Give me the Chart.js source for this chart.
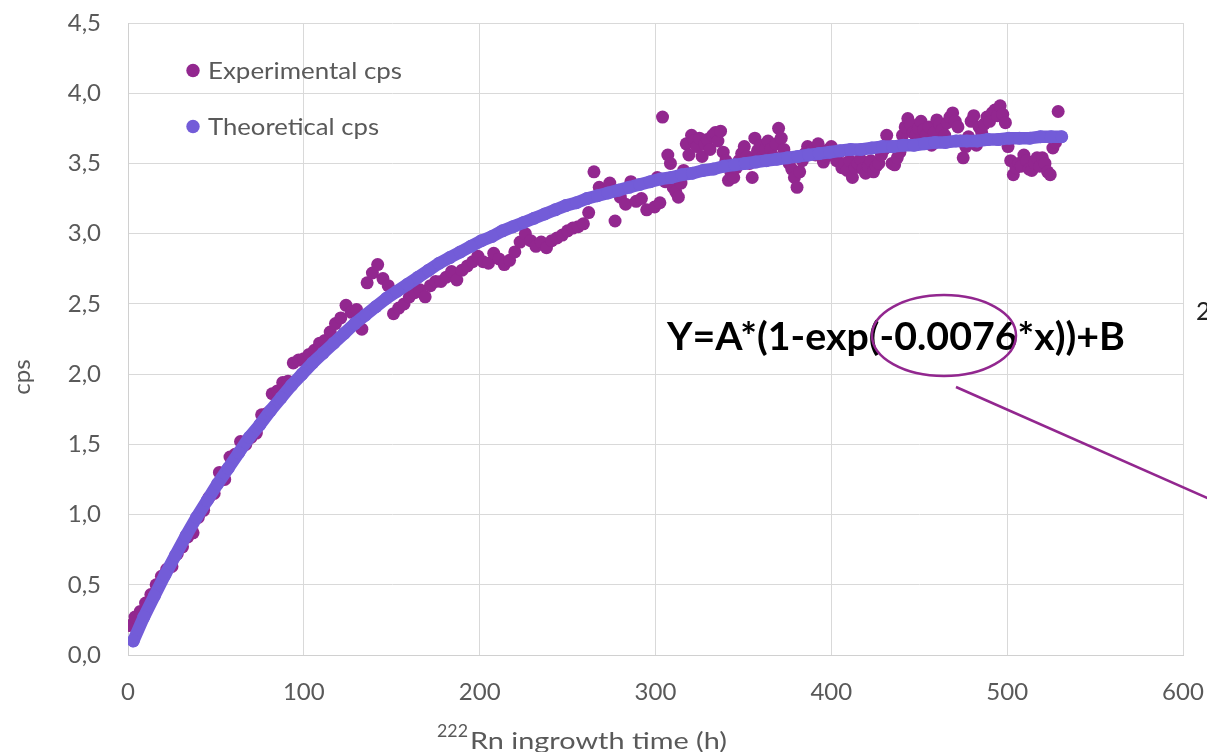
<!DOCTYPE html>
<html>
<head>
<meta charset="utf-8">
<script src="https://cdn.jsdelivr.net/npm/chart.js@4.4.1/dist/chart.umd.min.js"></script>
<style>
html,body{margin:0;padding:0;background:#fff;}
#wrap{width:1207px;height:752px;position:relative;overflow:hidden;}
canvas{display:block;}
</style>
</head>
<body>
<div id="wrap"><canvas id="c" width="1207" height="752"></canvas></div>
<script>
// ---- data ----
const seriesNames = ['Experimental cps', 'Theoretical cps'];
const xTicks = [0, 100, 200, 300, 400, 500, 600];
const yTicks = [0, 0.5, 1, 1.5, 2, 2.5, 3, 3.5, 4, 4.5];
const xTitleSup = '222';
const xTitle = 'Rn ingrowth time (h)';
const yTitle = 'cps';
const equationText = 'Y=A*(1-exp(-0.0076*x))+B';
const clippedText = '2';

// experimental, first part: every 3 h starting at 1 h
const expEarlyStart = 1, expEarlyStep = 3;
const expEarlyCps = [
  0.21,0.27,0.31,0.37,0.43,0.50,0.56,0.61,0.63,0.72,0.77,0.84,0.87,0.98,1.03,1.12,1.15,1.30,1.25,1.41,1.43,1.52,1.50,1.55,1.58,1.71,1.72,1.86,1.88,1.94,1.95,2.08,2.10,
  2.11,2.14,2.17,2.22,2.24,2.30,2.36,2.40,2.49,2.44,2.46,2.32,2.65,2.72,2.78,2.68,2.63,2.43,2.47,2.50,2.55,2.58,2.60,2.55,2.63,2.66,2.66,2.69,2.73,2.67,2.74,2.77,2.80,2.84,
  2.80,2.79,2.86,2.82,2.78,2.81,2.87,2.94,3.00,2.95,2.91,2.94,2.90,2.95,2.97,2.99,3.02,3.04,3.05,3.07,3.15,3.44,3.33,3.31,3.36,3.09,3.26,3.21,3.37,3.23,3.25,3.17
];
// experimental, second part: every 1.5 h starting at 299.5 h
const expLateStart = 299.5, expLateStep = 1.5;
const expLateCps = [
  3.19,3.40,3.22,3.83,3.37,3.56,3.50,3.33,3.30,3.26,3.36,3.45,3.64,3.56,3.70,3.66,3.62,3.68,3.55,3.64,
  3.67,3.60,3.70,3.72,3.66,3.73,3.58,3.52,3.38,3.43,3.40,3.47,3.52,3.57,3.62,3.55,3.50,3.40,3.68,3.59,
  3.63,3.55,3.60,3.66,3.60,3.55,3.64,3.75,3.68,3.60,3.55,3.50,3.46,3.40,3.33,3.44,3.52,3.57,3.62,3.58,
  3.60,3.56,3.64,3.58,3.51,3.55,3.60,3.62,3.56,3.52,3.58,3.47,3.50,3.45,3.52,3.40,3.47,3.50,3.53,3.46,
  3.43,3.48,3.52,3.44,3.48,3.50,3.56,3.60,3.70,3.62,3.50,3.49,3.54,3.58,3.70,3.76,3.82,3.78,3.72,3.70,
  3.75,3.80,3.74,3.70,3.76,3.63,3.72,3.81,3.78,3.74,3.70,3.79,3.83,3.86,3.80,3.76,3.66,3.54,3.62,3.69,
  3.80,3.84,3.63,3.76,3.72,3.78,3.83,3.80,3.86,3.88,3.84,3.91,3.85,3.79,3.62,3.52,3.42,3.47,3.50,3.48,
  3.56,3.52,3.46,3.45,3.50,3.54,3.48,3.54,3.50,3.44,3.42,3.61,3.65,3.87
];

// theoretical: every 6 h starting at 3 h
const theoStart = 3, theoStep = 6;
const theoCps = [
  0.10,0.27,0.42,0.57,0.71,0.85,0.98,1.10,1.22,1.33,
  1.44,1.55,1.64,1.74,1.83,1.92,2.00,2.08,2.15,2.22,
  2.29,2.36,2.42,2.48,2.54,2.59,2.64,2.69,2.74,2.79,
  2.83,2.87,2.91,2.95,2.98,3.02,3.05,3.08,3.11,3.14,
  3.17,3.20,3.22,3.25,3.27,3.29,3.31,3.33,3.35,3.37,
  3.39,3.40,3.42,3.43,3.45,3.46,3.48,3.49,3.50,3.51,
  3.52,3.53,3.54,3.55,3.56,3.57,3.58,3.59,3.60,3.60,
  3.61,3.62,3.62,3.63,3.63,3.64,3.65,3.65,3.66,3.66,
  3.66,3.67,3.67,3.68,3.68,3.68,3.69,3.69,3.69
];

// ---- styling ----
const colExp = '#92278F';
const colTheo = '#735CD8';
const colText = '#595959';
const colGrid = '#D9D9D9';
const FONT = 'Lato';

const expPoints = expEarlyCps.map((v, i) => ({x: expEarlyStart + i * expEarlyStep, y: v}))
  .concat(expLateCps.map((v, i) => ({x: expLateStart + i * expLateStep, y: v})));
const theoPoints = theoCps.map((v, i) => ({x: theoStart + i * theoStep, y: v}));

function drawFitted(ctx, text, weight, size, x, y, targetW) {
  ctx.font = weight + ' ' + size + 'px ' + FONT;
  const w = ctx.measureText(text).width;
  ctx.save();
  ctx.translate(x, y);
  ctx.scale(targetW / w, 1);
  ctx.fillText(text, 0, 0);
  ctx.restore();
}

const overlay = {
  id: 'overlay',
  afterDraw(chart) {
    const ctx = chart.ctx;
    ctx.save();
    ctx.textAlign = 'left'; ctx.textBaseline = 'alphabetic';
    // legend
    const leg = [[seriesNames[0], colExp, 79, 194], [seriesNames[1], colTheo, 135, 171]];
    leg.forEach(([name, col, base, w]) => {
      ctx.beginPath();
      ctx.arc(193, base - 8.5, 6.7, 0, Math.PI * 2);
      ctx.fillStyle = col; ctx.fill();
      ctx.fillStyle = colText;
      drawFitted(ctx, name, 'normal', 24, 208, base, w);
    });
    // equation
    ctx.fillStyle = '#000';
    drawFitted(ctx, equationText, 'bold', 39, 667, 350, 458);
    // ellipse + pointer line
    ctx.strokeStyle = colExp; ctx.lineWidth = 2.5;
    ctx.beginPath(); ctx.ellipse(944, 335.5, 72, 40.5, 0, 0, Math.PI * 2); ctx.stroke();
    ctx.beginPath(); ctx.moveTo(956, 387); ctx.lineTo(1240, 512.5); ctx.stroke();
    // clipped text at right
    ctx.font = 'normal 25px ' + FONT; ctx.fillStyle = '#222';
    ctx.fillText(clippedText, 1196, 320);
    // x title
    ctx.fillStyle = colText;
    drawFitted(ctx, xTitle, 'normal', 24, 470, 749, 257);
    drawFitted(ctx, xTitleSup, 'normal', 17, 437, 737, 31);
    // y title
    ctx.translate(22, 377); ctx.rotate(-Math.PI / 2);
    ctx.font = 'normal 24px ' + FONT; ctx.textAlign = 'center'; ctx.textBaseline = 'middle';
    ctx.fillText(yTitle, 0, 0);
    ctx.restore();
  }
};

Chart.defaults.font.family = FONT;
new Chart(document.getElementById('c'), {
  type: 'scatter',
  data: {
    datasets: [
      {label: seriesNames[0], data: expPoints, order: 1, backgroundColor: colExp, borderColor: colExp,
       pointRadius: 6.5, pointBorderWidth: 0, showLine: false},
      {label: seriesNames[1], data: theoPoints, order: 0, backgroundColor: colTheo, borderColor: colTheo,
       pointRadius: 6.5, pointBorderWidth: 0, showLine: true, borderWidth: 12.5, borderCapStyle: 'round', borderJoinStyle: 'round', tension: 0}
    ]
  },
  options: {
    responsive: false, animation: false, devicePixelRatio: 1,
    layout: {padding: {left: 0, right: 24, top: 23, bottom: 0}},
    plugins: {legend: {display: false}, tooltip: {enabled: false}},
    scales: {
      x: {
        type: 'linear', min: 0, max: 600,
        afterBuildTicks: s => { s.ticks = xTicks.map(v => ({value: v})); },
        afterFit: s => { s.height = 97; s.paddingLeft = 0; s.paddingRight = 0; },
        ticks: {font: {size: 24}, color: colText, padding: 23, maxRotation: 0, autoSkip: false},
        grid: {color: colGrid, drawTicks: false},
        border: {color: '#D0D0D0'}
      },
      y: {
        min: 0, max: 4.5,
        afterBuildTicks: s => { s.ticks = yTicks.map(v => ({value: v})); },
        afterFit: s => { s.width = 128; s.paddingTop = 0; s.paddingBottom = 0; },
        ticks: {font: {size: 24}, color: colText, padding: 27,
                callback: v => v.toFixed(1).replace('.', ',')},
        grid: {color: colGrid, drawTicks: false},
        border: {color: '#D0D0D0'}
      }
    }
  },
  plugins: [overlay]
});
</script>
</body>
</html>
